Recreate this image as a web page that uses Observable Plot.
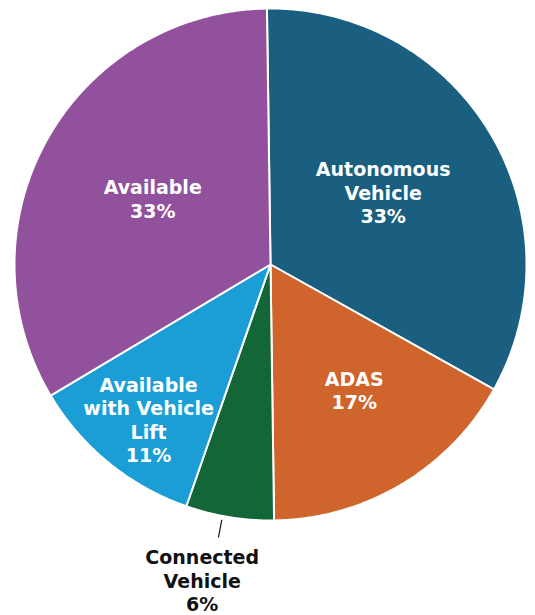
<!DOCTYPE html>
<html>
<head>
<meta charset="utf-8">
<script src="https://cdn.jsdelivr.net/npm/d3@7"></script>
<script src="https://cdn.jsdelivr.net/npm/@observablehq/plot@0.6"></script>
<style>
  html, body { margin: 0; padding: 0; background: #ffffff; }
  #chart svg { display: block; }
</style>
</head>
<body>
<div id="chart"></div>
<script>
// ---- data ----
const categories = ["Autonomous Vehicle", "ADAS", "Connected Vehicle", "Available with Vehicle Lift", "Available"];
const values = [6, 3, 1, 2, 6];
const labelLines = ["Autonomous\nVehicle", "ADAS", "Connected\nVehicle", "Available\nwith Vehicle\nLift", "Available"];
const colors = ["#1a5f80", "#cf642c", "#126637", "#1b9ed6", "#91519c"];

// ---- layout (not data) ----
const W = 535, H = 615;
const cx = 270, cy = 264, R = 256;          // pixel centre / radius
const startDeg = -0.8;
// label placement: [radius fraction, angle nudge in degrees]
const labelPlace = [[0.523, -1.9], [0.59, -2.9], [1.262, 3.0], [0.77, -1.0], [0.527, 0]];
const outside = [false, false, true, false, false];

const total = d3.sum(values);
const rad = d => d * Math.PI / 180;

// build slices
const polys = [];
const labels = [];
const leaders = [];
let a = startDeg;
categories.forEach((cat, i) => {
  const span = values[i] / total * 360;
  const a0 = a, a1 = a + span;
  const pts = [{cat, x: 0, y: 0}];
  const n = Math.max(2, Math.ceil(span / 0.5));
  for (let k = 0; k <= n; k++) {
    const t = rad(a0 + (a1 - a0) * k / n);
    pts.push({cat, x: Math.sin(t), y: Math.cos(t)});
  }
  pts.push({cat, x: 0, y: 0});
  polys.push(...pts);
  const mid = (a0 + a1) / 2;
  const [lr, nudge] = labelPlace[i];
  const lt = rad(mid + nudge);
  const pct = Math.round(values[i] / total * 100) + "%";
  labels.push({cat, x: lr * Math.sin(lt), y: lr * Math.cos(lt), text: labelLines[i] + "\n" + pct, outside: outside[i]});
  if (outside[i]) {
    const m = rad(mid + 1.6);
    leaders.push({x1: 1.015 * Math.sin(m), y1: 1.015 * Math.cos(m), x2: 1.085 * Math.sin(m), y2: 1.085 * Math.cos(m)});
  }
  a = a1;
});

const font = "DejaVu Sans, Verdana, sans-serif";

const chart = Plot.plot({
  width: W,
  height: H,
  margin: 0,
  style: {background: "#ffffff", overflow: "visible"},
  x: {domain: [-cx / R, (W - cx) / R], range: [0, W], axis: null},
  y: {domain: [-(H - cy) / R, cy / R], range: [H, 0], axis: null},
  color: {type: "ordinal", domain: categories, range: colors},
  marks: [
    Plot.line(polys, {x: "x", y: "y", z: "cat", fill: "cat", stroke: "#ffffff", strokeWidth: 2, strokeLinejoin: "round", curve: "linear"}),
    Plot.link(leaders, {x1: "x1", y1: "y1", x2: "x2", y2: "y2", stroke: "#111111", strokeWidth: 1.2}),
    Plot.text(labels.filter(d => !d.outside), {x: "x", y: "y", text: "text", fill: "#ffffff", fontSize: 19, fontWeight: "bold", fontFamily: font, lineHeight: 1.24, lineAnchor: "middle", textAnchor: "middle"}),
    Plot.text(labels.filter(d => d.outside), {x: "x", y: "y", text: "text", fill: "#111111", fontSize: 19, fontWeight: "bold", fontFamily: font, lineHeight: 1.24, lineAnchor: "middle", textAnchor: "middle"})
  ]
});
document.getElementById("chart").appendChild(chart);
</script>
</body>
</html>
